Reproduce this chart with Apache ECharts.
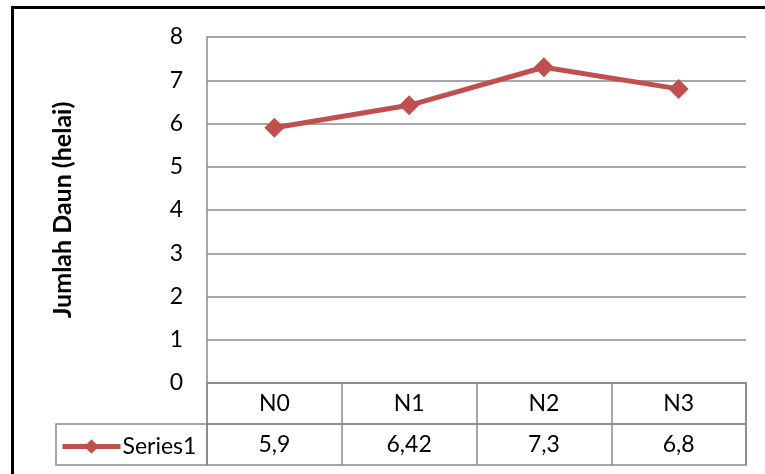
<!DOCTYPE html>
<html>
<head>
<meta charset="utf-8">
<script src="https://cdn.jsdelivr.net/npm/echarts@6/dist/echarts.min.js"></script>
<style>
  html, body { margin: 0; padding: 0; background: #fff; }
  #chart { width: 765px; height: 474px; }
</style>
</head>
<body>
<div id="chart"></div>
<script>
    // data
    const categories = ['N0', 'N1', 'N2', 'N3']
    const series1 = [5.9, 6.42, 7.3, 6.8]
    const yTicks = [0, 1, 2, 3, 4, 5, 6, 7, 8]
    const seriesName = 'Series1'
    const yTitle = 'Jumlah Daun (helai)'

    // angka di tabel pakai koma
    const tableLabels = series1.map(v => String(v).replace('.', ','))

    const gray = '#8a8a8a'
    const red = '#C0504D'
    const font = 'Lato'
    const fs = 23

    const myChart = echarts.init(document.getElementById('chart'))
    const option = {
        animation: false,
        textStyle: { fontFamily: font },
        graphic: [{
            type: 'rect',
            shape: { x: 12.5, y: 7.5, width: 800, height: 500 },
            style: { fill: 'none', stroke: '#000', lineWidth: 3 },
            z: 100
        }],
        legend: {
            data: [seriesName],
            left: 60, top: 435, padding: 0,
            itemWidth: 58, itemHeight: 18, itemGap: 0,
            lineStyle: { width: 5, color: red },
            textStyle: { fontSize: fs, color: '#000', fontFamily: font, padding: [0, 0, 0, -3] }
        },
        grid: [
            // area plot
            { left: 207, top: 37, width: 539, height: 346 },
            // baris header tabel
            { left: 207, top: 383, width: 539, height: 41, show: true, borderColor: gray, borderWidth: 1.5 },
            // baris nilai
            { left: 207, top: 424, width: 539, height: 41, show: true, borderColor: gray, borderWidth: 1.5 },
            // sel legenda
            { left: 56, top: 424, width: 151, height: 41, show: true, borderColor: gray, borderWidth: 1.5 }
        ],
        xAxis: [
            {
                type: 'category', gridIndex: 0, data: categories, boundaryGap: true,
                axisLine: { show: true, lineStyle: { color: gray, width: 1.5 } },
                axisTick: { show: false }, axisLabel: { show: false }, splitLine: { show: false }
            },
            {
                type: 'category', gridIndex: 1, data: categories, boundaryGap: true,
                axisLine: { show: false }, axisTick: { show: false },
                axisLabel: { fontSize: fs, color: '#000', margin: -20.5, verticalAlign: 'middle' },
                splitLine: { show: true, lineStyle: { color: gray, width: 1.5 } }
            },
            {
                type: 'category', gridIndex: 2, data: tableLabels, boundaryGap: true,
                axisLine: { show: false }, axisTick: { show: false },
                axisLabel: { fontSize: fs, color: '#000', margin: -20.5, verticalAlign: 'middle' },
                splitLine: { show: true, lineStyle: { color: gray, width: 1.5 } }
            },
            { type: 'category', gridIndex: 3, data: [''], show: false }
        ],
        yAxis: [
            {
                type: 'value', gridIndex: 0, min: yTicks[0], max: yTicks[yTicks.length - 1], interval: 1,
                name: yTitle, nameLocation: 'middle', nameGap: 132,
                nameTextStyle: { fontSize: 25, fontWeight: 'bold', color: '#000', fontFamily: font },
                axisLine: { show: true, lineStyle: { color: gray, width: 1.5 } },
                axisTick: { show: false },
                axisLabel: { fontSize: fs, color: '#000', margin: 24 },
                splitLine: { show: true, lineStyle: { color: gray, width: 1.5 } }
            },
            { type: 'value', gridIndex: 1, show: false },
            { type: 'value', gridIndex: 2, show: false },
            { type: 'value', gridIndex: 3, show: false }
        ],
        series: [
            {
                name: seriesName,
                type: 'line',
                xAxisIndex: 0, yAxisIndex: 0,
                data: series1,
                symbol: 'diamond', symbolSize: 20,
                lineStyle: { color: red, width: 5 },
                itemStyle: { color: red }
            }
        ]
    }
    myChart.setOption(option)
</script>
</body>
</html>
